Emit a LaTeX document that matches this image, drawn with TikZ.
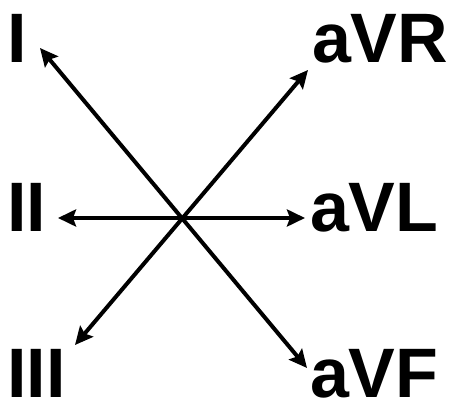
\documentclass[tikz,border=0pt]{standalone}
\usepackage{fontspec}
\setmainfont{Liberation Sans}
\usetikzlibrary{arrows.meta}
\begin{document}
\begin{tikzpicture}[x=1pt,y=1pt,
  lead/.style={inner sep=0pt, outer sep=0pt, anchor=base west, font=\fontsize{70}{70}\selectfont\bfseries},
  axis/.style={line width=4pt, {Stealth[length=18pt,width=17pt,inset=3pt]}-{Stealth[length=18pt,width=17pt,inset=3pt]}}]
\useasboundingbox (0,0) rectangle (451,404);
% labels
\node[lead] (lI)   at (7.5,341) {I};
\node[lead] (lII)  at (7.5,172) {II};
\node[lead] (lIII) at (7.5,6) {III};
\node[lead] (laVR) at (312,341) {aVR};
\node[lead] (laVL) at (310,172) {aVL};
\node[lead] (laVF) at (310,6) {aVF};
% arrow ends
\coordinate (tI)   at (40,356);
\coordinate (taVF) at (307,36);
\coordinate (taVR) at (308,334);
\coordinate (tIII) at (75,59);
\coordinate (tII)  at (58,186);
\coordinate (taVL) at (305,186);
\draw[axis] (tI) -- (taVF);
\draw[axis] (taVR) -- (tIII);
\draw[axis] (tII) -- (taVL);
\end{tikzpicture}
\end{document}
